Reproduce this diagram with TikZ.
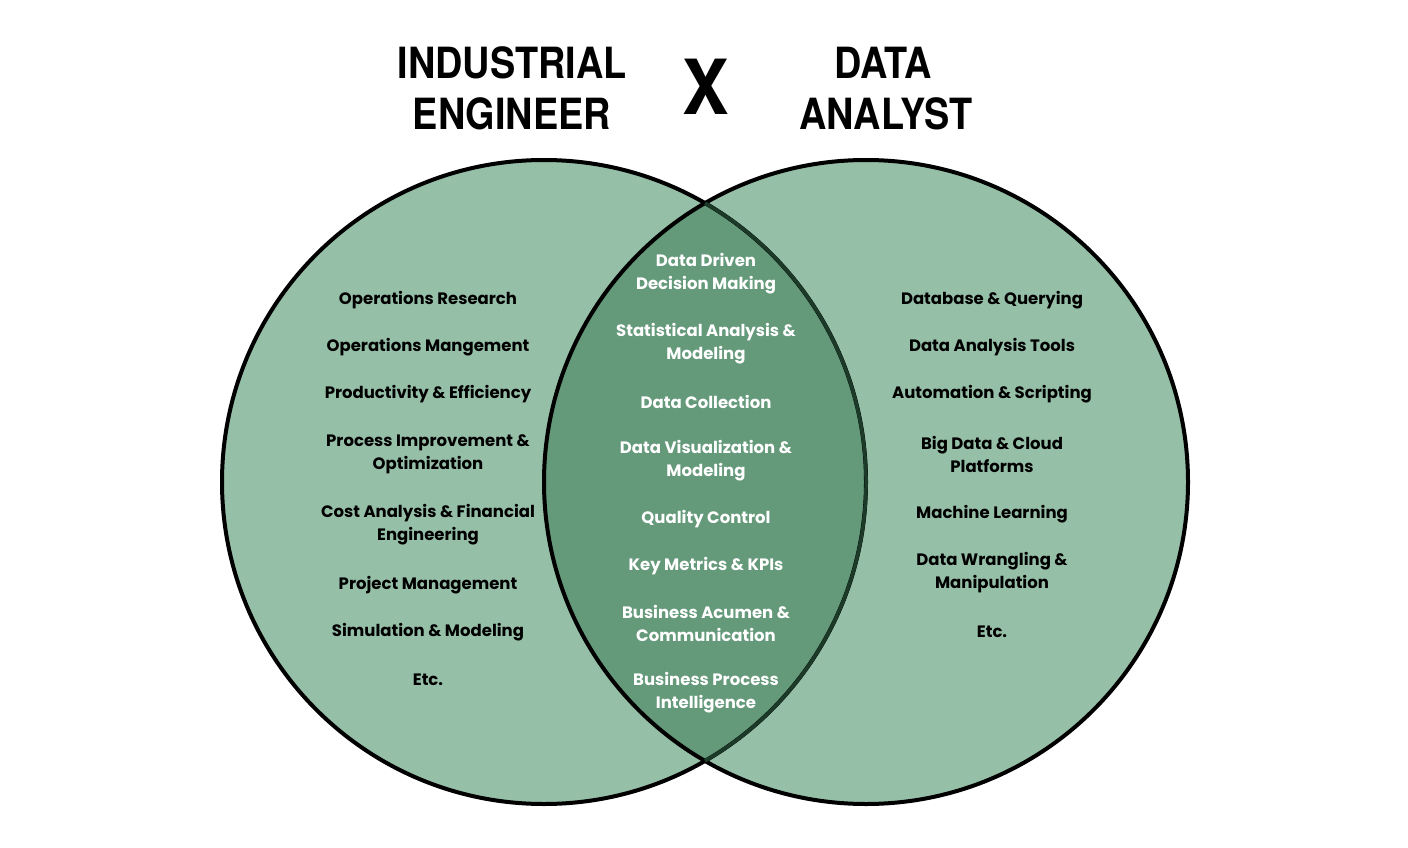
\documentclass[tikz,border=0pt]{standalone}
\usepackage{fontspec}
\newfontfamily\pop{Poppins}
\newfontfamily\ttl{TeX Gyre Heros}[FakeStretch=0.88]
\newfontfamily\xfont{TeX Gyre Heros}[FakeStretch=0.92]
\definecolor{light}{HTML}{96BFA8}
\definecolor{mid}{HTML}{64997A}
\definecolor{darkedge}{HTML}{1C3A28}
\tikzset{
  item/.style={align=center, font=\pop\bfseries\fontsize{16.5}{23}\selectfont, text=black, inner sep=0pt},
  mitem/.style={item, text=white},
  head/.style={align=center, font=\ttl\bfseries\fontsize{43}{52}\selectfont, inner sep=0pt},
}
\begin{document}
\begin{tikzpicture}[x=1pt,y=-1pt]
\useasboundingbox (0,0) rectangle (1408,848);
\fill[white] (0,0) rectangle (1408,848);
% circles
\fill[light] (544,482) circle (322);
\fill[light] (866,482) circle (322);
\begin{scope}
  \clip (544,482) circle (322);
  \fill[mid] (866,482) circle (322);
\end{scope}
\draw[line width=4pt] (866,482) circle (322);
\draw[line width=4pt] (544,482) circle (322);
\draw[line width=3.5pt, darkedge] (544,482) ++(-60:322) arc (-60:60:322);
% titles
\node[head, anchor=base] (t1) at (512,79) {INDUSTRIAL};
\node[head, anchor=base] (t2) at (512,130) {ENGINEER};
\node[head, anchor=base] (t3) at (883,79) {DATA};
\node[head, anchor=base] (t4) at (886,130) {ANALYST};
\node[font=\xfont\bfseries\fontsize{76}{80}\selectfont, inner sep=0pt, anchor=base] (x) at (706,115) {X};
% left items
\node[item] (l1) at (428,300) {Operations Research};
\node[item] (l2) at (428,347) {Operations Mangement};
\node[item] (l3) at (428,394) {Productivity \& Efficiency};
\node[item] (l4) at (428,454) {Process Improvement \&\\Optimization};
\node[item] (l5) at (428,525) {Cost Analysis \& Financial\\Engineering};
\node[item] (l6) at (428,585) {Project Management};
\node[item] (l7) at (428,632) {Simulation \& Modeling};
\node[item] (l8) at (428,680) {Etc.};
% right items
\node[item] (r1) at (992,300) {Database \& Querying};
\node[item] (r2) at (992,347) {Data Analysis Tools};
\node[item] (r3) at (992,394) {Automation \& Scripting};
\node[item] (r4) at (992,454) {Big Data \& Cloud\\Platforms};
\node[item] (r5) at (992,514) {Machine Learning};
\node[item] (r6) at (992,573) {Data Wrangling \&\\Manipulation};
\node[item] (r7) at (992,632) {Etc.};
% middle items
\node[mitem] (m1) at (706,274) {Data Driven\\Decision Making};
\node[mitem] (m2) at (706,344) {Statistical Analysis \&\\Modeling};
\node[mitem] (m3) at (706,402) {Data Collection};
\node[mitem] (m4) at (706,461) {Data Visualization \&\\Modeling};
\node[mitem] (m5) at (706,519) {Quality Control};
\node[mitem] (m6) at (706,566) {Key Metrics \& KPIs};
\node[mitem] (m7) at (706,623) {Business Acumen \&\\Communication};
\node[mitem] (m8) at (706,693) {Business Process\\Intelligence};
\end{tikzpicture}
\end{document}
